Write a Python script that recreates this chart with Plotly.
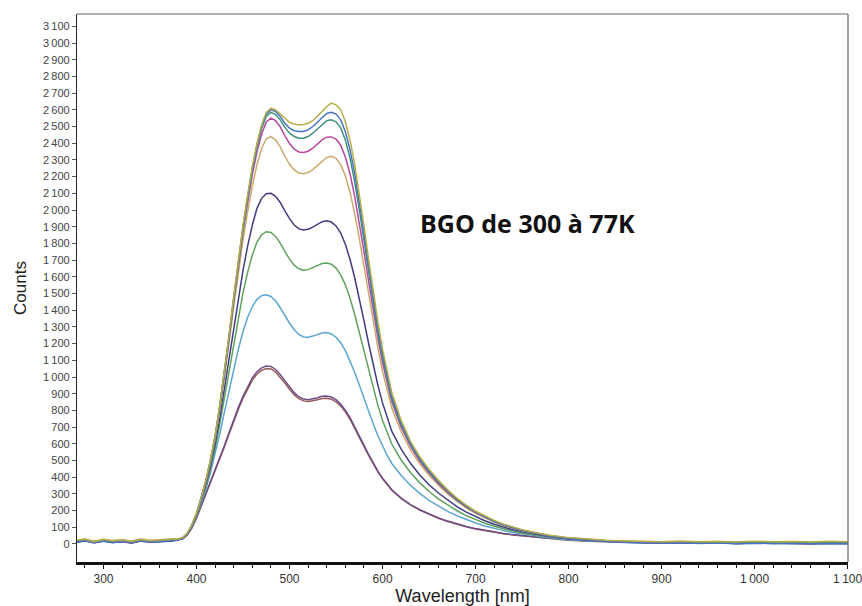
import plotly.graph_objects as go

# Wavelength grid [nm]
wavelength = [272, 280, 290, 300, 310, 320, 330, 340, 350, 360, 370, 380,
              385, 390, 395, 400, 405, 410, 415, 420, 425, 430, 435, 440, 445, 450, 455, 460,
              465, 470, 475, 480, 485, 490, 495, 500, 505, 510, 515, 520, 525, 530, 535, 540,
              545, 550, 555, 560, 565, 570, 575, 580, 585, 590, 595, 600, 605, 610,
              620, 630, 640, 650, 660, 670, 680, 690, 700, 710, 720, 730, 740, 750, 760,
              780, 800, 820, 840, 860, 880, 900, 920, 940, 960, 980, 1000, 1020, 1040, 1060, 1080, 1100]

c1 = [22, 28, 14, 26, 18, 24, 15, 27, 19, 23, 26, 30,
      38, 65, 115, 185, 275, 380, 505, 650, 830, 1030, 1250, 1480, 1700, 1910, 2090, 2260,
      2400, 2510, 2585, 2610, 2600, 2575, 2545, 2525, 2515, 2510, 2512, 2520, 2535, 2560, 2590, 2620,
      2640, 2630, 2600, 2530, 2420, 2275, 2100, 1905, 1705, 1510, 1330, 1165, 1025, 905,
      740, 615, 522, 447, 382, 324, 274, 232, 196, 166, 141, 119, 101, 86, 73,
      52, 38, 28, 22, 18, 16, 14, 17, 13, 15, 12, 16, 13, 15, 12, 16, 14]
c2 = [12, 20, 10, 18, 8, 16, 11, 19, 13, 15, 18, 24,
      36, 62, 112, 182, 272, 376, 500, 645, 825, 1025, 1245, 1475, 1695, 1900, 2080, 2250,
      2390, 2500, 2575, 2600, 2590, 2560, 2520, 2490, 2475, 2470, 2470, 2480, 2500, 2525, 2555, 2578,
      2585, 2575, 2540, 2470, 2362, 2220, 2048, 1858, 1662, 1472, 1295, 1137, 1000, 885,
      725, 604, 512, 437, 374, 318, 269, 228, 193, 163, 138, 116, 98, 83, 71,
      48, 33, 24, 17, 12, 9, 6, 8, 4, 6, 3, 5, 2, 4, 1, 3, 2]
c3 = [18, 25, 13, 22, 15, 21, 12, 24, 17, 20, 22, 27,
      37, 63, 113, 183, 273, 377, 500, 644, 822, 1020, 1240, 1468, 1688, 1890, 2070, 2240,
      2378, 2488, 2562, 2585, 2572, 2540, 2495, 2460, 2440, 2430, 2430, 2440, 2460, 2485, 2512, 2535,
      2540, 2528, 2492, 2420, 2312, 2170, 2002, 1816, 1626, 1440, 1267, 1113, 980, 868,
      713, 596, 505, 432, 369, 314, 266, 225, 191, 161, 136, 115, 97, 82, 70,
      50, 36, 27, 20, 15, 12, 10, 13, 9, 11, 8, 11, 9, 10, 7, 10, 9]
c4 = [14, 22, 9, 20, 12, 18, 8, 21, 14, 17, 20, 25,
      35, 61, 110, 180, 270, 373, 495, 638, 815, 1012, 1230, 1455, 1672, 1872, 2048, 2212,
      2348, 2455, 2527, 2550, 2535, 2498, 2445, 2398, 2365, 2348, 2345, 2352, 2370, 2395, 2420, 2436,
      2438, 2425, 2388, 2318, 2217, 2083, 1926, 1752, 1574, 1400, 1235, 1085, 958, 850,
      700, 586, 497, 425, 363, 309, 262, 222, 188, 159, 134, 113, 95, 81, 69,
      47, 32, 23, 16, 12, 8, 7, 9, 5, 8, 4, 7, 5, 6, 3, 6, 4]
c5 = [24, 30, 17, 28, 21, 26, 18, 29, 22, 25, 27, 31,
      34, 60, 108, 177, 266, 368, 488, 628, 800, 992, 1203, 1420, 1630, 1822, 1990, 2145,
      2272, 2370, 2425, 2440, 2420, 2378, 2322, 2274, 2240, 2222, 2218, 2225, 2242, 2268, 2295, 2315,
      2322, 2310, 2272, 2205, 2107, 1980, 1830, 1665, 1496, 1330, 1174, 1033, 913, 812,
      672, 563, 480, 411, 352, 300, 255, 216, 183, 155, 131, 111, 93, 79, 68,
      49, 35, 26, 21, 17, 15, 13, 16, 12, 15, 11, 14, 12, 14, 11, 14, 12]
c6 = [11, 19, 7, 17, 10, 15, 6, 18, 12, 14, 17, 23,
      34, 58, 105, 172, 258, 355, 468, 598, 755, 928, 1110, 1295, 1475, 1640, 1785, 1910,
      2010, 2070, 2098, 2100, 2082, 2045, 1995, 1948, 1910, 1887, 1880, 1885, 1898, 1915, 1930, 1935,
      1928, 1905, 1862, 1795, 1705, 1596, 1472, 1338, 1202, 1072, 950, 845, 752, 674,
      568, 483, 413, 355, 305, 262, 224, 191, 163, 139, 118, 100, 85, 73, 63,
      44, 31, 22, 16, 11, 8, 6, 9, 4, 7, 3, 6, 4, 6, 2, 5, 3]
c7 = [20, 27, 15, 24, 17, 23, 14, 26, 18, 22, 24, 28,
      33, 57, 103, 168, 250, 343, 450, 572, 718, 876, 1040, 1205, 1362, 1505, 1628, 1730,
      1808, 1852, 1870, 1866, 1842, 1802, 1752, 1706, 1670, 1648, 1640, 1643, 1655, 1668, 1680, 1683,
      1675, 1652, 1612, 1552, 1472, 1376, 1268, 1154, 1040, 930, 830, 740, 663, 597,
      503, 428, 366, 314, 270, 232, 199, 170, 145, 124, 106, 90, 77, 66, 57,
      41, 30, 23, 18, 14, 12, 10, 13, 9, 12, 8, 11, 9, 11, 8, 11, 9]
c8 = [10, 18, 6, 16, 9, 14, 5, 17, 11, 13, 16, 22,
      32, 55, 100, 163, 240, 328, 426, 535, 660, 790, 922, 1050, 1168, 1272, 1358, 1422,
      1465, 1487, 1492, 1482, 1455, 1415, 1368, 1322, 1283, 1255, 1240, 1238, 1245, 1255, 1264, 1266,
      1258, 1238, 1205, 1158, 1098, 1028, 952, 872, 793, 718, 648, 585, 530, 482,
      410, 352, 303, 261, 226, 195, 169, 146, 126, 108, 93, 80, 69, 60, 52,
      37, 26, 18, 13, 9, 6, 5, 8, 3, 6, 2, 5, 3, 5, 1, 4, 2]
c9 = [19, 26, 12, 23, 16, 22, 13, 25, 17, 21, 23, 27,
      31, 54, 97, 157, 228, 300, 368, 438, 512, 590, 668, 745, 818, 885, 945, 995,
      1032, 1055, 1066, 1063, 1045, 1015, 978, 940, 906, 882, 868, 864, 868, 876, 884, 886,
      880, 864, 838, 802, 757, 705, 649, 592, 536, 484, 436, 394, 357, 325,
      275, 236, 205, 179, 156, 137, 120, 105, 92, 81, 71, 63, 56, 50, 45,
      34, 26, 20, 16, 13, 11, 9, 12, 8, 11, 7, 10, 8, 10, 7, 10, 8]
c10 = [15, 23, 10, 21, 13, 19, 9, 22, 15, 18, 21, 26,
       30, 53, 96, 155, 225, 296, 363, 432, 505, 582, 659, 735, 807, 873, 932, 981,
       1018, 1040, 1051, 1048, 1030, 1000, 964, 927, 894, 870, 857, 853, 857, 864, 871, 873,
       867, 851, 826, 791, 747, 696, 641, 585, 530, 479, 432, 390, 354, 322,
       273, 234, 203, 177, 154, 135, 118, 103, 90, 79, 69, 61, 54, 48, 43,
       31, 22, 16, 12, 9, 7, 5, 8, 4, 7, 3, 6, 4, 6, 3, 5, 4]

series = [c10, c9, c8, c7, c6, c5, c4, c3, c2, c1]
colors = ["#95595a", "#6e4e88", "#5aa6d0", "#5ea25e", "#3d3d80",
          "#c9aa6c", "#b8489f", "#3f8f80", "#4a72c2", "#b5ad45"]

y_tick_vals = list(range(0, 3101, 100))
y_tick_text = [f"{v:,}".replace(",", "\u2009") if v >= 1000 else str(v) for v in y_tick_vals]
x_tick_vals = [300, 400, 500, 600, 700, 800, 900, 1000, 1100]
x_tick_text = ["300", "400", "500", "600", "700", "800", "900", "1\u2009000", "1\u2009100"]

fig = go.Figure()
for s, c in zip(series, colors):
    fig.add_trace(go.Scatter(x=wavelength, y=s, mode="lines",
                             line=dict(color=c, width=1.5), showlegend=False))

fig.add_annotation(x=638, y=1920, xref="x", yref="y", text="<b>BGO de 300 à 77K</b>",
                   showarrow=False, xanchor="left", yanchor="middle",
                   font=dict(family="Open Sans", size=25, color="#111"))

fig.update_layout(
    width=862, height=606,
    margin=dict(l=77, r=14, t=14, b=44),
    paper_bgcolor="white", plot_bgcolor="white",
    font=dict(family="Liberation Sans", color="#333"),
    xaxis=dict(range=[271.5, 1100.4], tickvals=x_tick_vals, ticktext=x_tick_text,
               ticks="outside", ticklen=4, tickcolor="#111", showgrid=False, zeroline=False,
               showline=True, linecolor="#111", linewidth=2.5, automargin=False,
               ticklabeloverflow="allow",
               minor=dict(dtick=20, ticks="outside", ticklen=3, tickcolor="#111"),
               tickfont=dict(size=12, color="#333"),
               title=dict(text="Wavelength [nm]", font=dict(size=18, color="#222"), standoff=8)),
    yaxis=dict(range=[-108, 3174], tickvals=y_tick_vals, ticktext=y_tick_text,
               ticks="outside", ticklen=4, tickcolor="#555", showgrid=False, zeroline=False,
               showline=True, linecolor="#222", linewidth=1.2, automargin=False,
               tickfont=dict(size=11, color="#444"),
               title=dict(text="Counts", font=dict(size=17, color="#222"), standoff=12)),
)
# top and right frame lines
fig.add_shape(type="line", xref="paper", yref="paper", x0=0, x1=1, y0=1, y1=1,
              line=dict(color="#666", width=1.2))
fig.add_shape(type="line", xref="paper", yref="paper", x0=1, x1=1, y0=0, y1=1,
              line=dict(color="#666", width=1.2))

fig.write_html("out.html", config={"displayModeBar": False},
               post_script="document.body.style.margin='0';")
